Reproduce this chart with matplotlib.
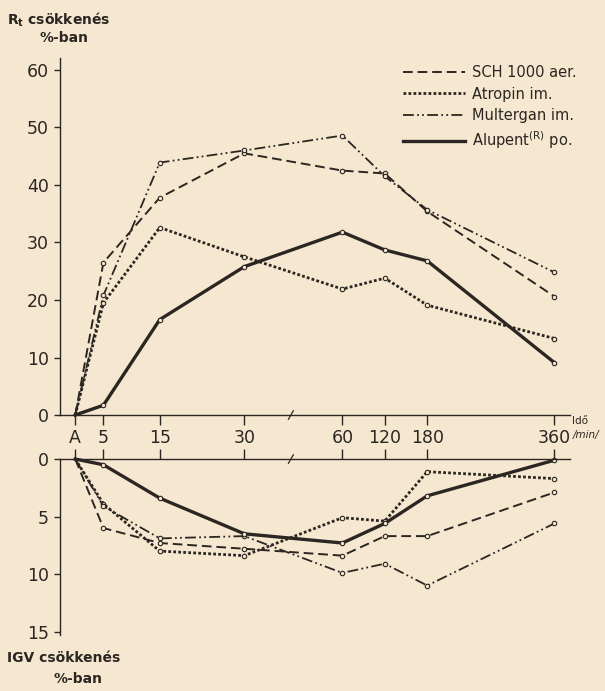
import numpy as np
import matplotlib.pyplot as plt
from matplotlib.lines import Line2D

# Idő (min), "A" = kiindulás
ido = [0, 5, 15, 30, 60, 120, 180, 360]
ido_cimkek = ["A", "5", "15", "30", "60", "120", "180", "360"]

# Rt csökkenés %-ban
rt_sch = [0, 26.5, 37.8, 45.5, 42.5, 42.0, 35.4, 20.6]
rt_atropin = [0, 19.5, 32.6, 27.5, 21.9, 23.8, 19.1, 13.3]
rt_multergan = [0, 20.8, 43.9, 46.0, 48.6, 41.5, 35.7, 24.8]
rt_alupent = [0, 1.7, 16.6, 25.8, 31.8, 28.7, 26.8, 9.1]

# IGV csökkenés %-ban
igv_sch = [0, 6.0, 7.3, 7.8, 8.4, 6.7, 6.7, 2.9]
igv_atropin = [0, 3.9, 8.0, 8.4, 5.1, 5.4, 1.1, 1.7]
igv_multergan = [0, 4.1, 6.9, 6.7, 9.9, 9.1, 11.0, 5.6]
igv_alupent = [0, 0.5, 3.4, 6.5, 7.3, 5.6, 3.2, 0.1]

nevek = ["SCH 1000 aer.", "Atropin im.", "Multergan im.",
         r"Alupent$^{\mathregular{(R)}}$ po."]

bg = "#f6e8d0"
ink = "#2b2622"

# megtört időtengely: 0-30 min sűrűn, 60-360 min ritkán
t_knots = [-20, 0, 30, 60, 360, 420]
p_knots = [-112.7, 0, 169, 267, 479, 521.4]


def fwd(t):
    return np.interp(t, t_knots, p_knots)


def inv(p):
    return np.interp(p, p_knots, t_knots)


stilusok = [
    dict(ls=(0, (5, 2.5)), lw=1.4),
    dict(ls=(0, (1, 0.8)), lw=2.0),
    dict(ls=(0, (6, 1.8, 1, 1.8, 1, 1.8)), lw=1.3),
    dict(ls="-", lw=2.4),
]

plt.rcParams["font.family"] = ["DejaVu Sans"]
fig = plt.figure(figsize=(6.05, 6.91), dpi=100, facecolor=bg)
ax1 = fig.add_axes([0.0992, 0.3994, 0.843, 0.516])
ax2 = fig.add_axes([0.0992, 0.081, 0.843, 0.2547])

for ax in (ax1, ax2):
    ax.set_facecolor(bg)
    ax.set_xscale("function", functions=(fwd, inv))
    ax.set_xlim(-2.7, 382)
    ax.set_xticks(ido)
    for s in ax.spines.values():
        s.set_color(ink)
        s.set_linewidth(1.0)
    ax.tick_params(axis="y", direction="out", length=4, width=1.0,
                   color=ink, labelcolor=ink, labelsize=12.5, pad=4)
    ax.tick_params(axis="x", direction="out", length=7, width=1.0,
                   color=ink, labelcolor=ink, labelsize=12.5, pad=3)

for ax, sorok in ((ax1, [rt_sch, rt_atropin, rt_multergan, rt_alupent]),
                  (ax2, [igv_sch, igv_atropin, igv_multergan, igv_alupent])):
    for y, st in zip(sorok, stilusok):
        ax.plot(ido, y, color=ink, ls=st["ls"], lw=st["lw"],
                marker="o", ms=3.2, mfc=bg, mec=ink, mew=0.8,
                markevery=slice(1, None), clip_on=False)

# felső panel
ax1.set_ylim(0, 62)
ax1.set_yticks([0, 10, 20, 30, 40, 50, 60])
ax1.spines[["top", "right"]].set_visible(False)
ax1.set_xticklabels(ido_cimkek)

# alsó panel (lefelé nő)
ax2.set_ylim(15.3, 0)
ax2.set_yticks([0, 5, 10, 15])
ax2.spines[["bottom", "right"]].set_visible(False)
ax2.xaxis.set_ticks_position("top")
ax2.tick_params(axis="x", labeltop=False, labelbottom=False)

# törésjel a tengelyen
for ax, y0, d in ((ax1, 0.0, 0.012), (ax2, 1.0, 0.024)):
    tr = ax.get_xaxis_transform()
    ax.plot([43.5, 45.0], [y0 - d, y0 + d],
            color=ink, lw=0.9, transform=tr, clip_on=False)

# jelmagyarázat
kezek = [Line2D([], [], color=ink, ls=st["ls"], lw=st["lw"]) for st in stilusok]
fig.legend(kezek, nevek, loc="upper left", bbox_to_anchor=(0.645, 0.925),
           frameon=False, fontsize=10.5, handlelength=4.2, handletextpad=0.5,
           labelspacing=0.45, labelcolor=ink)

# tengelyfeliratok
fig.text(0.012, 0.985, r"R$_\mathregular{t}$ csökkenés", fontsize=10,
         fontweight="bold", color=ink, va="top")
fig.text(0.065, 0.955, "%-ban", fontsize=10, fontweight="bold",
         color=ink, va="top")
fig.text(0.012, 0.058, "IGV csökkenés", fontsize=10, fontweight="bold",
         color=ink, va="top")
fig.text(0.088, 0.028, "%-ban", fontsize=10, fontweight="bold",
         color=ink, va="top")
fig.text(0.946, 0.398, "Idő", fontsize=7.5, color=ink, va="top")
fig.text(0.946, 0.378, "/min/", fontsize=7.5, color=ink, va="top",
         style="italic")

fig.savefig("out.png", dpi=100, facecolor=bg)
